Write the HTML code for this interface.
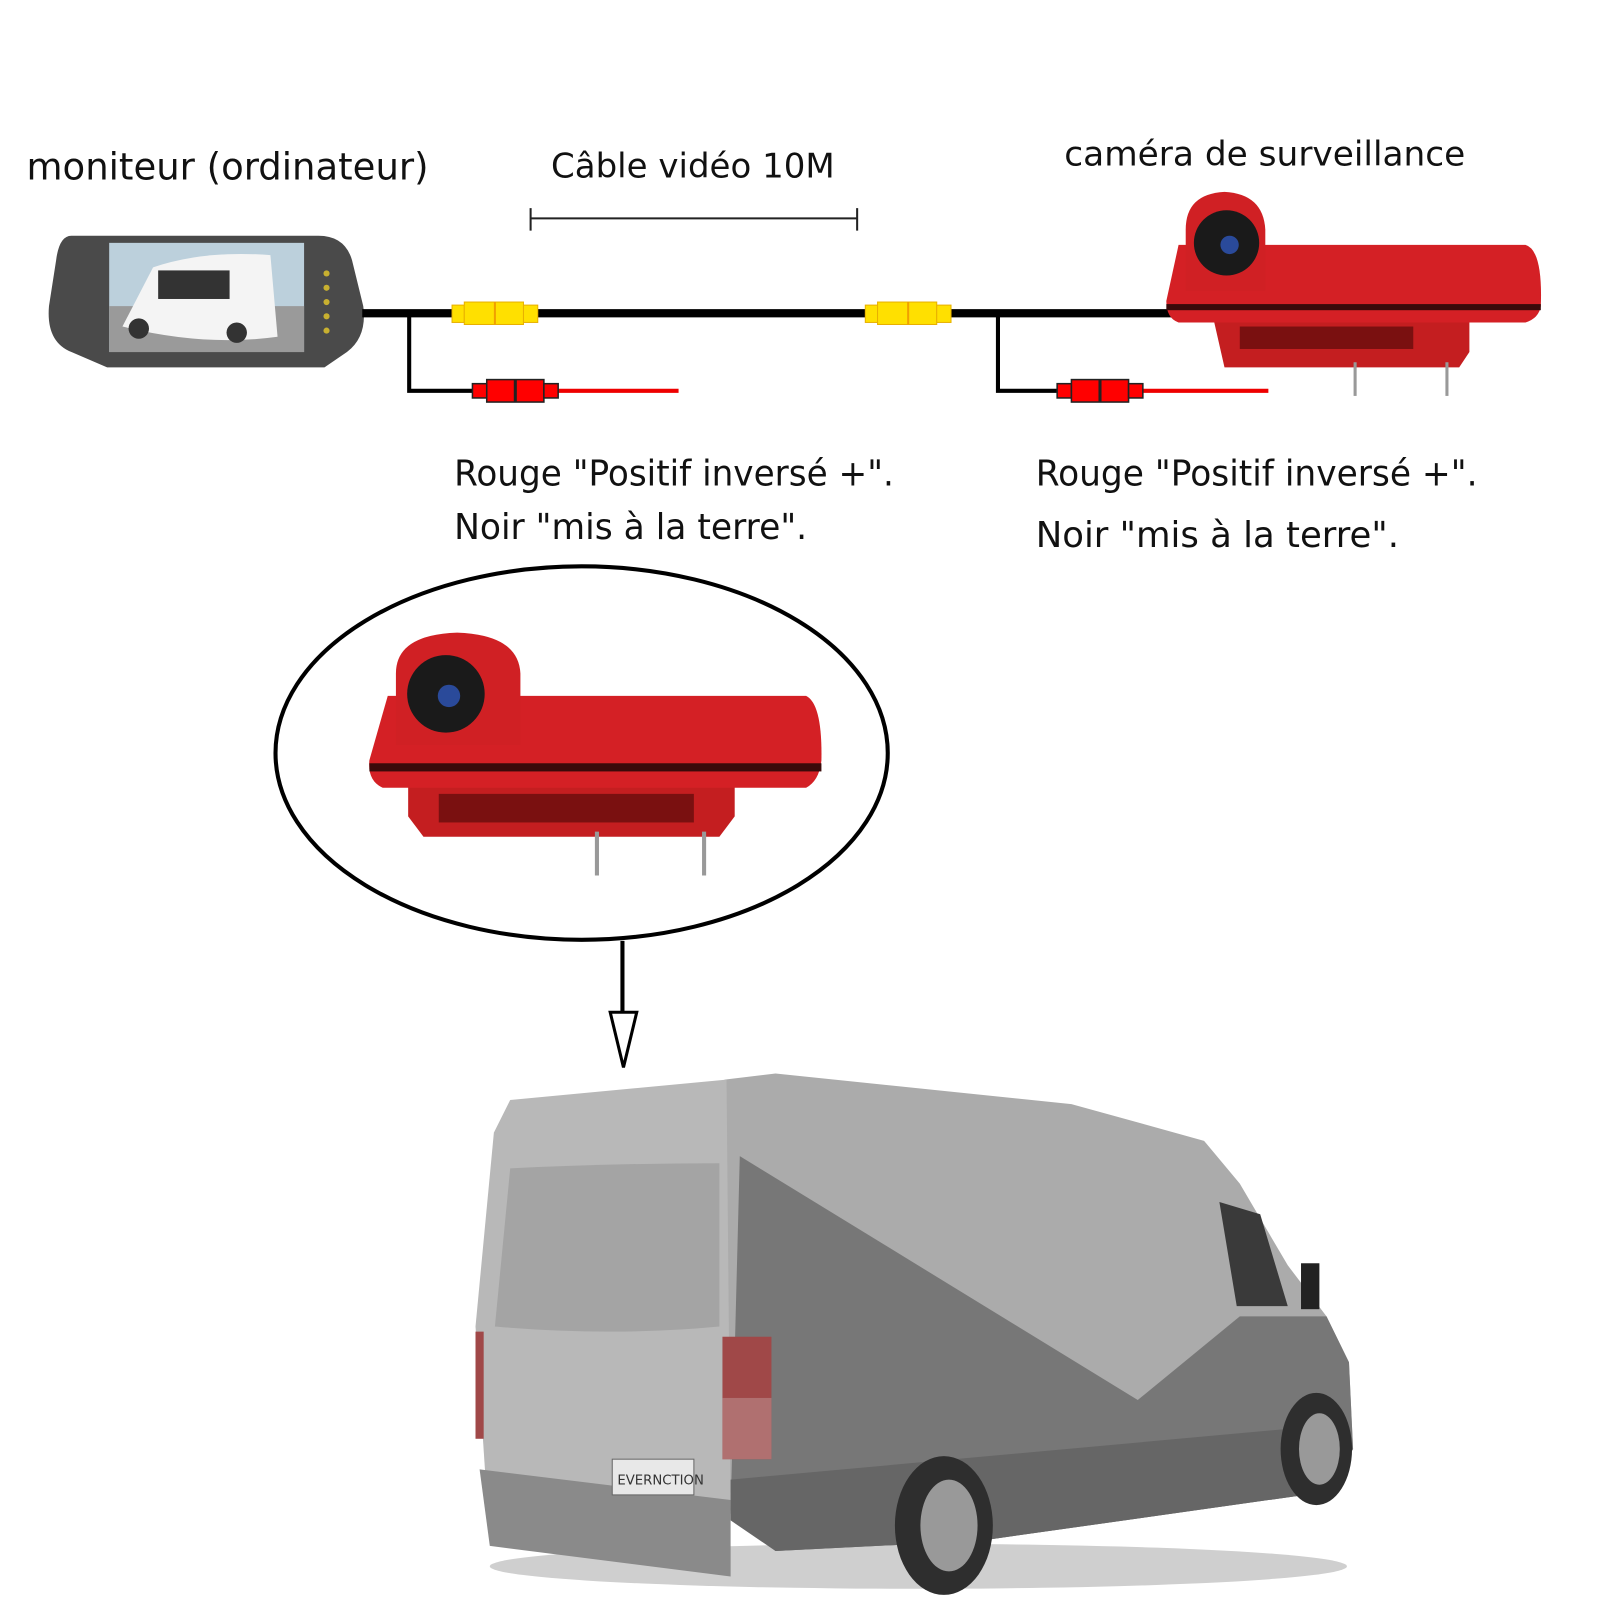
<!DOCTYPE html>
<html><head><meta charset="utf-8"><style>
html,body{margin:0;padding:0;background:#fff;}
svg{display:block;}
text{font-family:"DejaVu Sans","Liberation Sans",sans-serif;fill:#111;}
</style></head><body>
<svg width="1600" height="1600" viewBox="0 0 1568 1568" xmlns="http://www.w3.org/2000/svg">
<rect width="1568" height="1568" fill="#fff"/>
<!-- labels -->
<text x="26" y="176" font-size="37" textLength="394" lengthAdjust="spacingAndGlyphs">moniteur (ordinateur)</text>
<text x="540" y="174" font-size="33" textLength="278" lengthAdjust="spacingAndGlyphs">Câble vidéo 10M</text>
<text x="1043" y="162" font-size="33" textLength="393" lengthAdjust="spacingAndGlyphs">caméra de surveillance</text>
<path d="M520 214H840M520 204V226M840 204V226" stroke="#222" stroke-width="2" fill="none"/>
<!-- monitor -->
<path d="M70 231H312Q338 231 345 255L356 300Q360 330 340 345L318 360H105L70 345Q45 335 48 300L55 255Q58 231 70 231Z" fill="#4a4a4a"/>
<rect x="107" y="238" width="191" height="107" fill="#bcd0dc"/>
<rect x="107" y="300" width="191" height="45" fill="#9a9a9a"/>
<path d="M120 320L150 262Q200 245 265 250L272 330Q200 340 120 320Z" fill="#f4f4f4"/>
<rect x="155" y="265" width="70" height="28" fill="#333"/>
<circle cx="136" cy="322" r="10" fill="#333"/><circle cx="232" cy="326" r="10" fill="#333"/>
<g fill="#c8b030"><circle cx="320" cy="268" r="3"/><circle cx="320" cy="282" r="3"/><circle cx="320" cy="296" r="3"/><circle cx="320" cy="310" r="3"/><circle cx="320" cy="324" r="3"/></g>
<!-- cables -->
<line x1="355" y1="307" x2="1148" y2="307" stroke="#000" stroke-width="8"/>
<path d="M401 307V383H470M978 307V383H1040" stroke="#000" stroke-width="4" fill="none"/>
<line x1="545" y1="383" x2="665" y2="383" stroke="#e00" stroke-width="4"/>
<line x1="1120" y1="383" x2="1243" y2="383" stroke="#e00" stroke-width="4"/>
<!-- yellow connectors -->
<g fill="#ffe000" stroke="#e8b000" stroke-width="1">
<rect x="443" y="299" width="12" height="17"/><rect x="455" y="296" width="58" height="22"/><rect x="513" y="299" width="14" height="17"/>
<rect x="848" y="299" width="12" height="17"/><rect x="860" y="296" width="58" height="22"/><rect x="918" y="299" width="14" height="17"/>
</g>
<line x1="485" y1="296" x2="485" y2="318" stroke="#f0a000" stroke-width="2"/>
<line x1="890" y1="296" x2="890" y2="318" stroke="#f0a000" stroke-width="2"/>
<!-- red connectors -->
<g fill="#f00" stroke="#222" stroke-width="1.5">
<rect x="463" y="376" width="14" height="14"/><rect x="477" y="372" width="56" height="22"/><rect x="533" y="376" width="14" height="14"/>
<rect x="1036" y="376" width="14" height="14"/><rect x="1050" y="372" width="56" height="22"/><rect x="1106" y="376" width="14" height="14"/>
</g>
<line x1="505" y1="372" x2="505" y2="394" stroke="#222" stroke-width="3"/>
<line x1="1078" y1="372" x2="1078" y2="394" stroke="#222" stroke-width="3"/>
<!-- camera top right -->
<g>
<path d="M1190 316H1440V345L1430 360H1200Z" fill="#c41e20"/>
<rect x="1215" y="320" width="170" height="22" fill="#7a1010"/>
<path d="M1155 240H1495Q1512 245 1510 300Q1508 312 1495 316H1155Q1143 312 1143 295Z" fill="#d42025"/>
<rect x="1143" y="298" width="367" height="6" fill="#3a0a0a"/>
<path d="M1162 285V225Q1162 190 1200 188Q1238 190 1240 225V285Z" fill="#d02024"/>
<circle cx="1202" cy="238" r="32" fill="#1a1a1a"/>
<circle cx="1205" cy="240" r="9" fill="#2a4a9a"/>
<line x1="1328" y1="355" x2="1328" y2="388" stroke="#999" stroke-width="3"/>
<line x1="1418" y1="355" x2="1418" y2="388" stroke="#999" stroke-width="3"/>
</g>
<!-- text blocks -->
<text x="445" y="476" font-size="35" textLength="431" lengthAdjust="spacingAndGlyphs">Rouge "Positif inversé +".</text>
<text x="445" y="528" font-size="35" textLength="346" lengthAdjust="spacingAndGlyphs">Noir "mis à la terre".</text>
<text x="1015" y="476" font-size="35" textLength="433" lengthAdjust="spacingAndGlyphs">Rouge "Positif inversé +".</text>
<text x="1015" y="536" font-size="35" textLength="356" lengthAdjust="spacingAndGlyphs">Noir "mis à la terre".</text>
<!-- ellipse -->
<ellipse cx="570" cy="738" rx="300" ry="183" fill="none" stroke="#000" stroke-width="4"/>
<!-- camera in ellipse -->
<g>
<path d="M400 770H720V800L705 820H415L400 800Z" fill="#c41e20"/>
<rect x="430" y="778" width="250" height="28" fill="#7a1010"/>
<path d="M380 682H790Q806 690 805 745Q803 765 790 772H375Q360 765 362 745Z" fill="#d42025"/>
<rect x="362" y="748" width="443" height="8" fill="#3a0a0a"/>
<path d="M388 730V660Q388 622 448 620Q508 622 510 660V730Z" fill="#d02024"/>
<circle cx="437" cy="680" r="38" fill="#1a1a1a"/>
<circle cx="440" cy="682" r="11" fill="#2a4a9a"/>
<line x1="585" y1="815" x2="585" y2="858" stroke="#999" stroke-width="4"/>
<line x1="690" y1="815" x2="690" y2="858" stroke="#999" stroke-width="4"/>
</g>
<!-- arrow -->
<line x1="610" y1="922" x2="610" y2="992" stroke="#000" stroke-width="4"/>
<path d="M598 992H624L611 1046Z" fill="#fff" stroke="#000" stroke-width="3"/>
<!-- van -->
<ellipse cx="900" cy="1535" rx="420" ry="22" fill="#cfcfcf"/>
<path d="M710 1058L760 1052L1050 1082L1180 1118L1215 1160L1262 1240L1300 1290L1322 1335L1326 1420L1300 1462L960 1510L760 1520L712 1480Z" fill="#ababab"/>
<path d="M500 1078L712 1058L716 1485L700 1540L480 1512L466 1300L484 1110Z" fill="#b8b8b8"/>
<path d="M500 1145Q600 1140 705 1140L705 1300Q600 1310 485 1300Z" fill="#a4a4a4"/>
<path d="M725 1133L1115 1372L1215 1290L1300 1290L1322 1335L1326 1420L1300 1462L960 1510L760 1520L716 1480Z" fill="#777"/>
<path d="M716 1450L1320 1395L1326 1420L1300 1462L960 1510L760 1520L716 1490Z" fill="#666"/>
<path d="M1195 1178L1235 1190L1262 1280L1212 1280Z" fill="#3a3a3a"/>
<rect x="1275" y="1238" width="18" height="45" fill="#222"/>
<rect x="708" y="1310" width="48" height="120" fill="#a04848"/>
<rect x="708" y="1370" width="48" height="60" fill="#b07070"/>
<path d="M470 1440L716 1470L716 1545L480 1515Z" fill="#8a8a8a"/>
<rect x="600" y="1430" width="80" height="35" fill="#e8e8e8" stroke="#666"/>
<text x="605" y="1455" font-size="13" style="fill:#333">EVERNCTION</text>
<ellipse cx="925" cy="1495" rx="48" ry="68" fill="#2e2e2e"/>
<ellipse cx="930" cy="1495" rx="28" ry="45" fill="#999"/>
<ellipse cx="1290" cy="1420" rx="35" ry="55" fill="#2e2e2e"/>
<ellipse cx="1293" cy="1420" rx="20" ry="35" fill="#999"/>
<rect x="466" y="1305" width="8" height="105" fill="#a04848"/>
</svg>
</body></html>
